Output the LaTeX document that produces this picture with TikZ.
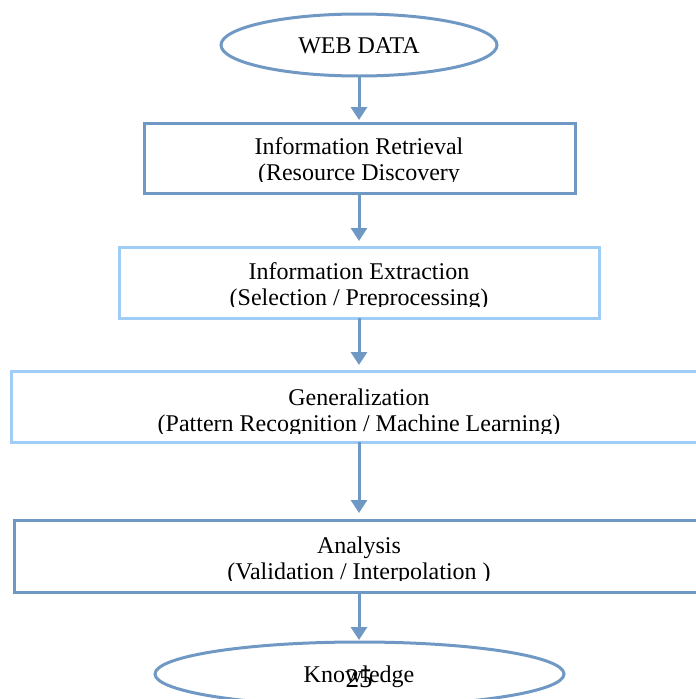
\documentclass[tikz,border=0pt]{standalone}
\usepackage{fontspec}
\setmainfont{Liberation Serif}
\usetikzlibrary{shapes.geometric,arrows.meta}
\definecolor{darkb}{HTML}{7098C4}
\definecolor{lightb}{HTML}{A0CDF5}
\begin{document}
\begin{tikzpicture}[x=1pt,y=-1pt,
  box/.style={draw, rectangle, line width=3pt, inner sep=0pt, outer sep=0pt, fill=white},
  oval/.style={draw=darkb, ellipse, line width=3pt, inner sep=0pt, outer sep=0pt, fill=white},
  lbl/.style={font=\fontsize{24}{26}\selectfont, anchor=base, inner sep=0pt, outer sep=0pt},
  arr/.style={darkb, line width=3pt, -{Triangle[length=13pt,width=16pt]}}]
\useasboundingbox (0,0) rectangle (696,699);
\clip (0,0) rectangle (696,699);
\fill[white] (0,0) rectangle (696,699);

% shapes
\node[oval, minimum width=276pt, minimum height=62pt] (web) at (359,45) {};
\node[box, draw=darkb, minimum width=431pt, minimum height=70pt] (b1) at (359.5,158) {};
\node[box, draw=lightb, minimum width=480pt, minimum height=71pt] (b2) at (359,282.5) {};
\node[box, draw=lightb, minimum width=696pt, minimum height=71pt] (b3) at (359,406.5) {};
\node[box, draw=darkb, minimum width=690pt, minimum height=72pt] (b4) at (359,556) {};
\node[oval, minimum width=409pt, minimum height=64pt] (kn) at (359.5,674) {};

% connectors
\draw[arr, shorten >=3pt] (web.south) -- (web.south |- b1.north);
\draw[arr, shorten >=6pt] (b1.south -| web.south) -- (web.south |- b2.north);
\draw[arr, shorten >=6pt] (b2.south -| web.south) -- (web.south |- b3.north);
\draw[arr, shorten >=7pt] (b3.south -| web.south) -- (web.south |- b4.north);
\draw[arr, shorten >=2pt] (b4.south -| web.south) -- (web.south |- kn.north);

% texts
\node[lbl] (t0) at (359,53) {WEB DATA};

\node[lbl] (t1a) at (359,154) {Information Retrieval};
\begin{scope}
  \clip (150,150) rectangle (570,181);
  \node[lbl] (t1b) at (359,180) {(Resource Discovery};
\end{scope}

\node[lbl] (t2a) at (359,279) {Information Extraction};
\begin{scope}
  \clip (125,280) rectangle (593,306);
  \node[lbl] (t2b) at (359,305) {(Selection / Preprocessing)};
\end{scope}

\node[lbl] (t3a) at (359,405) {Generalization};
\begin{scope}
  \clip (20,406) rectangle (690,433);
  \node[lbl] (t3b) at (359,431) {(Pattern Recognition / Machine Learning)};
\end{scope}

\node[lbl] (t4a) at (359,553) {Analysis};
\begin{scope}
  \clip (20,554) rectangle (690,580);
  \node[lbl] (t4b) at (359,579) {(Validation / Interpolation )};
\end{scope}

\node[lbl] (t5) at (359,682) {Knowledge};
\node[lbl, font=\fontsize{27}{29}\selectfont] (pg) at (359,687) {25};
\end{tikzpicture}
\end{document}
